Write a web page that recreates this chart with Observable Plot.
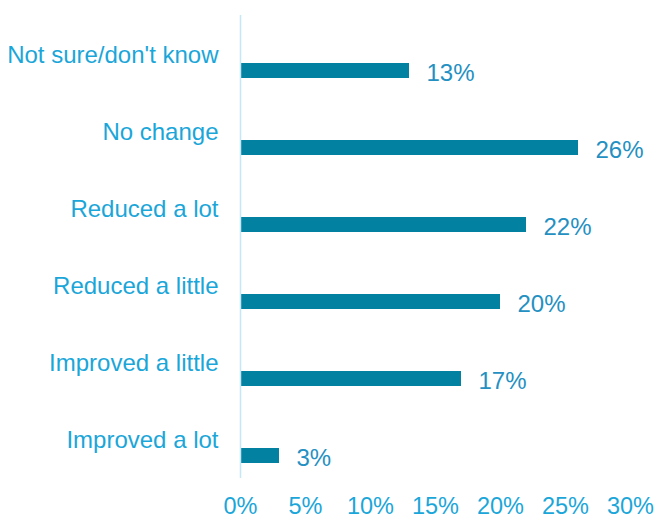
<!DOCTYPE html>
<html>
<head>
<meta charset="utf-8">
<script src="https://cdn.jsdelivr.net/npm/d3@7"></script>
<script src="https://cdn.jsdelivr.net/npm/@observablehq/plot@0.6"></script>
<style>
  html, body { margin: 0; padding: 0; background: #fff; }
  svg { display: block; }
</style>
</head>
<body>
<div id="chart"></div>
<script>
const categories = ["Not sure/don't know", "No change", "Reduced a lot", "Reduced a little", "Improved a little", "Improved a lot"];
const values = [13, 26, 22, 20, 17, 3];
const xTicks = [0, 5, 10, 15, 20, 25, 30];

const data = categories.map((c, i) => ({category: c, value: values[i]}));

const chart = Plot.plot({
  width: 656,
  height: 519,
  marginLeft: 240,
  marginRight: 26,
  marginTop: 31,
  marginBottom: 24,
  style: {fontFamily: "'Liberation Sans', Arial, sans-serif", fontSize: "24px", background: "#fff"},
  x: {domain: [0, 30], label: null},
  y: {domain: categories, paddingInner: 0.8, paddingOuter: 0.4, axis: null},
  marks: [
    Plot.axisX({ticks: xTicks, tickFormat: d => d + "%", tickSize: 0, tickPadding: 2, fontSize: 23.5, color: "#1ba6d9", label: null}),
    Plot.barX(data, {x: "value", y: "category", fill: "#0381a1"}),
    Plot.ruleX([0], {stroke: "#c5e8f6", strokeWidth: 1.5, insetTop: -16, insetBottom: 17}),
    Plot.text(data, {x: d => 0, y: "category", text: "category", textAnchor: "end", dx: -22, dy: -16, fill: "#1ba6d9", fontSize: 24}),
    Plot.text(data, {x: "value", y: "category", text: d => d.value + "%", textAnchor: "start", dx: 17, dy: 2, fill: "#2490c2", fontSize: 24})
  ]
});
document.getElementById("chart").appendChild(chart);
</script>
</body>
</html>
